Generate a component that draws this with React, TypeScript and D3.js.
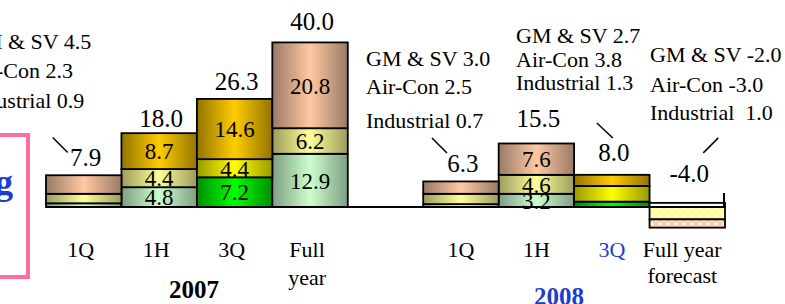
import React from "react";
import * as d3 from "d3";

// bars, left to right; "gap" is the empty slot between the two years
const categories = ["1Q 07", "1H 07", "3Q 07", "FY 07", "gap", "1Q 08", "1H 08", "3Q 08", "FY 08"];
const tickTop = ["1Q", "1H", "3Q", "Full", "", "1Q", "1H", "3Q", "Full year"];
const tickBottom = ["", "", "", "year", "", "", "", "", "forecast"];
const years = ["2007", "2008"];

const industrial = [0.9, 4.8, 7.2, 12.9, null, 0.7, 3.2, 1.3, 1.0];
const airCon = [2.3, 4.4, 4.4, 6.2, null, 2.5, 4.6, 3.8, -3.0];
const gmSv = [4.5, 8.7, 14.6, 20.8, null, 3.0, 7.6, 2.7, -2.0];
const totals = [7.9, 18.0, 26.3, 40.0, null, 6.3, 15.5, 8.0, -4.0];

// which bars print numbers inside their segments, which get a callout
const segmentLabelled = [false, true, true, true, false, false, true, false, false];
const noteBars = [0, 5, 7, 8];

// ---- styles / layout ----
const keys = ["industrial", "airCon", "gmSv"];
const barFills: (string[] | null)[] = [
  ["paleGreen", "paleYellow", "peach"],
  ["paleGreen", "paleYellow", "gold"],
  ["green", "yellow", "gold"],
  ["paleGreen", "paleYellow", "peach"],
  null,
  ["paleGreen", "paleYellow", "peach"],
  ["paleGreen", "paleYellow", "peach"],
  ["green", "yellow", "gold"],
  ["whiteFill", "hatchYellow", "hatchPeach"],
];
const gradients: [string, string, string][] = [
  ["peach", "#9a7a66", "#ffc9a2"],
  ["paleYellow", "#9c9c5e", "#ffff99"],
  ["paleGreen", "#7f9f84", "#ccffcc"],
  ["gold", "#947400", "#ffcc00"],
  ["yellow", "#9a9a00", "#ffff00"],
  ["green", "#009000", "#00ff00"],
];
const totalLift = [8, 6, 9, 12, 0, 9, 16, 13, 21];
// callout text start x, line baselines, leader offsets from bar centre / label baseline
const noteLayout = [
  { x: -33, ys: [49, 78, 108], lead: [-31, -29, -16, -14] },
  { x: 366, ys: [66, 94, 128], lead: [-29, -34, -14, -19] },
  { x: 516, ys: [43, 67, 90], lead: [-15, -38, 1, -23] },
  { x: 650, ys: [62, 92, 120], lead: [31, -44, 16, -29] },
];

const W = 785;
const H = 304;
const font = "'Liberation Serif', 'Times New Roman', serif";
const blue = "#1a3fd0";

export default function App() {
  const x = d3.scaleBand<string>().domain(categories).range([46, 725]).padding(0);
  const y = d3.scaleLinear().domain([0, 40]).range([207, 42]);
  const bw = x.bandwidth();

  const table = categories
    .map((c, i) => ({ cat: c, i, industrial: industrial[i], airCon: airCon[i], gmSv: gmSv[i] }))
    .filter((r) => r.industrial !== null) as any[];

  const series = d3
    .stack<any>()
    .keys(keys)
    .offset(d3.stackOffsetDiverging)(table);

  const cx = (i: number) => (x(categories[i]) as number) + bw / 2;
  const totalY = (i: number) => {
    const t = totals[i] as number;
    const top = t >= 0 ? y(t) : y(industrial[i] as number);
    return top - totalLift[i];
  };
  const fmt = (v: number) => v.toFixed(1);

  const last = categories.length - 1;

  return (
    <svg width={W} height={H} style={{ position: "absolute", left: 0, top: 0, background: "#fff" }} fontFamily={font}>
      <defs>
        {gradients.map(([id, edge, mid]) => (
          <linearGradient key={id} id={id} x1="0" x2="1" y1="0" y2="0">
            <stop offset="0" stopColor={edge} />
            <stop offset="0.5" stopColor={mid} />
            <stop offset="1" stopColor={edge} />
          </linearGradient>
        ))}
        <pattern id="hatchYellow" width="8" height="8" patternUnits="userSpaceOnUse">
          <rect width="8" height="8" fill="#ffffd4" />
          <path d="M0,0L8,8M8,0L0,8" stroke="#ffff80" strokeWidth="1.6" />
        </pattern>
        <pattern id="hatchPeach" width="8" height="8" patternUnits="userSpaceOnUse">
          <rect width="8" height="8" fill="#ffeee2" />
          <path d="M0,0L8,8M8,0L0,8" stroke="#ffc6a6" strokeWidth="1.6" />
        </pattern>
      </defs>

      {/* pink frame from the neighbouring panel */}
      <rect x={-10} y={135} width={38} height={142} fill="none" stroke="#ff6f9e" strokeWidth={4} />
      <text x={13} y={194} textAnchor="end" fontSize={36} fontWeight="bold" fill={blue}>
        g
      </text>

      {/* stacked bars */}
      {series.map((s, k) =>
        s.map((d: any) => {
          const i = d.data.i;
          const fills = barFills[i] as string[];
          const top = y(Math.max(d[0], d[1]));
          const h = Math.abs(y(d[0]) - y(d[1]));
          const fid = fills[k];
          const fill = fid === "whiteFill" ? "#f4fff4" : `url(#${fid})`;
          return (
            <rect
              key={s.key + i}
              x={x(categories[i])}
              y={top}
              width={bw}
              height={h}
              fill={fill}
              stroke="#000"
              strokeWidth={1.8}
            />
          );
        })
      )}

      {/* segment values */}
      {series.map((s, k) =>
        s
          .filter((d: any) => segmentLabelled[d.data.i])
          .map((d: any) => {
            const i = d.data.i;
            const v = [industrial, airCon, gmSv][k][i] as number;
            return (
              <text
                key={"l" + s.key + i}
                x={cx(i)}
                y={(y(d[0]) + y(d[1])) / 2}
                dy="0.36em"
                textAnchor="middle"
                fontSize={23}
                fill="#000"
              >
                {fmt(v)}
              </text>
            );
          })
      )}

      {/* forecast bar's raised right edge */}
      <line
        x1={(x(categories[last]) as number) + bw - 1}
        x2={(x(categories[last]) as number) + bw - 1}
        y1={y(3.4)}
        y2={y(0)}
        stroke="#000"
        strokeWidth={2}
      />

      {/* baseline */}
      <line x1={x(categories[0])} x2={(x(categories[last]) as number) + bw} y1={y(0)} y2={y(0)} stroke="#000" strokeWidth={1.8} />

      {/* totals */}
      {totals.map((t, i) =>
        t === null ? null : (
          <text key={"t" + i} x={cx(i) + 2} y={totalY(i)} textAnchor="middle" fontSize={25} fill="#000">
            {fmt(t)}
          </text>
        )
      )}

      {/* callouts */}
      {noteBars.map((i, n) => {
        const L = noteLayout[n];
        const lines = [
          `GM & SV ${fmt(gmSv[i] as number)}`,
          `Air-Con ${fmt(airCon[i] as number)}`,
          `Industrial${(industrial[i] as number) >= 0 && (airCon[i] as number) < 0 ? "  " : " "}${fmt(industrial[i] as number)}`,
        ];
        const ly = totalY(i);
        return (
          <g key={"n" + i}>
            {lines.map((s, j) => (
              <text key={j} x={L.x} y={L.ys[j]} fontSize={22} fill="#000" style={{ whiteSpace: "pre" }}>
                {s}
              </text>
            ))}
            <line
              x1={cx(i) + L.lead[0]}
              y1={ly + L.lead[1]}
              x2={cx(i) + L.lead[2]}
              y2={ly + L.lead[3]}
              stroke="#000"
              strokeWidth={1.5}
            />
          </g>
        );
      })}

      {/* category labels */}
      {categories.map((c, i) =>
        tickTop[i] === "" ? null : (
          <text
            key={"c" + c}
            x={cx(i) + (i < 4 ? -3 : i === last ? -5 : 0)}
            y={257}
            textAnchor="middle"
            fontSize={22}
            fill={i === 7 ? blue : "#000"}
          >
            {tickTop[i]}
            {tickBottom[i] !== "" && (
              <tspan x={cx(i) + (i < 4 ? -3 : -5)} dy={i === last ? 26 : 28}>
                {tickBottom[i]}
              </tspan>
            )}
          </text>
        )
      )}

      {/* year labels */}
      <text x={(x(categories[2]) as number) - 3} y={298} textAnchor="middle" fontSize={25} fontWeight="bold" fill="#000">
        {years[0]}
      </text>
      <text x={(x(categories[7]) as number) - 15} y={305} textAnchor="middle" fontSize={25} fontWeight="bold" fill={blue}>
        {years[1]}
      </text>
    </svg>
  );
}
